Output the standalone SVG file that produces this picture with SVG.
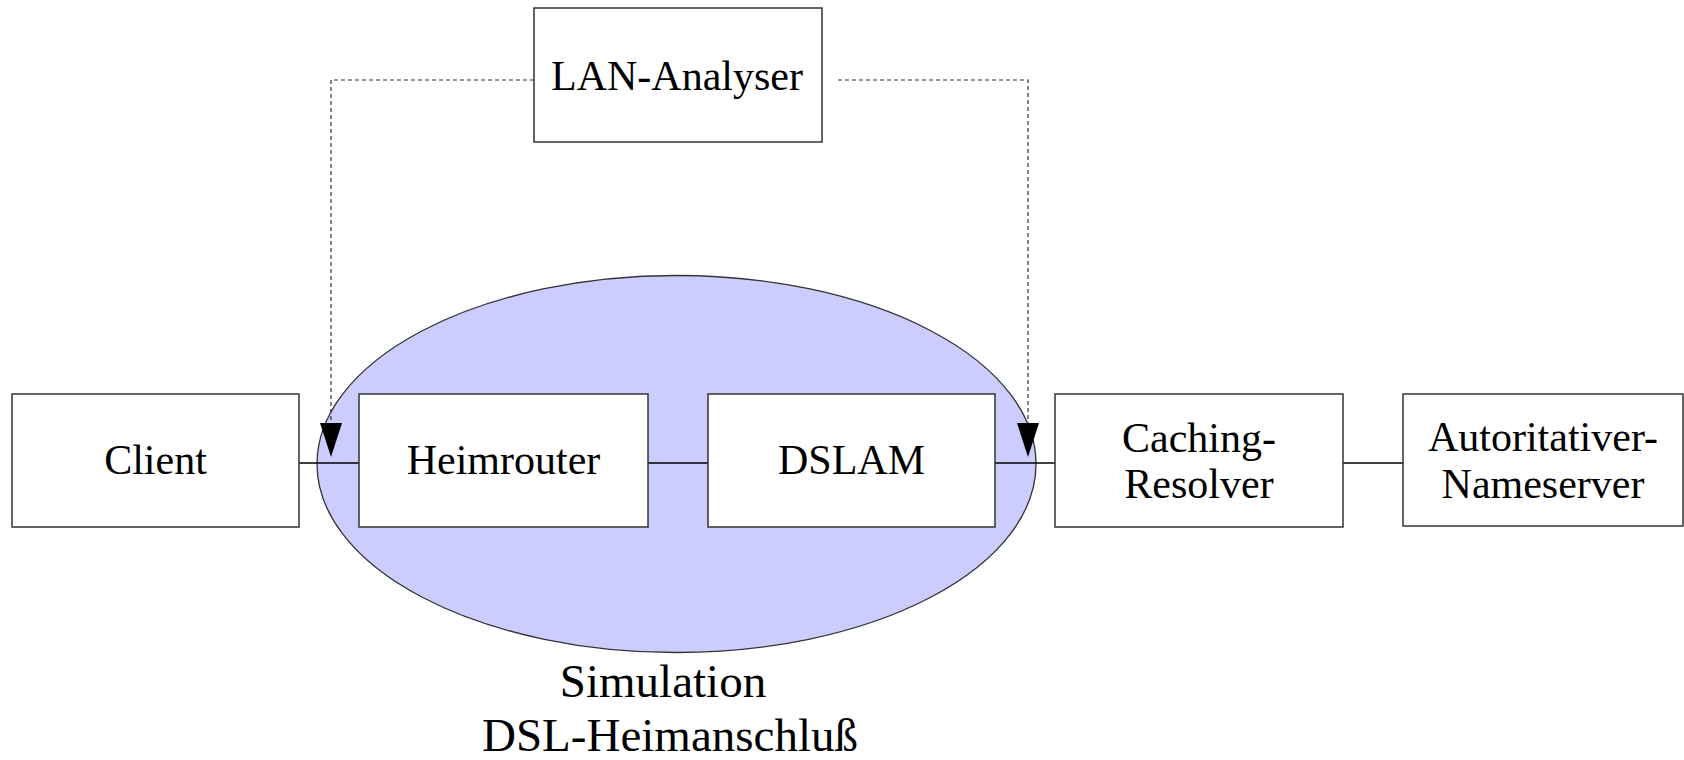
<svg xmlns="http://www.w3.org/2000/svg" width="1684" height="760" viewBox="0 0 1684 760">
  <style>
    .box { fill: #ffffff; stroke: #333333; stroke-width: 1.5; }
    .lbl { font-family: "Liberation Serif", "Times New Roman", serif; font-size: 42px; fill: #000000; text-anchor: middle; }
    .big { font-size: 47px; }
    .wire { stroke: #000000; stroke-width: 1.3; fill: none; }
    .tap { stroke: #333333; stroke-width: 1.2; stroke-dasharray: 4 3; fill: none; }
    .head { fill: #000000; }
  </style>

  <!-- simulated DSL home connection -->
  <g id="simulation">
    <ellipse cx="676.5" cy="464" rx="359.5" ry="188.5" fill="#ccccff" stroke="#333333" stroke-width="1.3"/>
    <text class="lbl big" x="663" y="697">Simulation</text>
    <text class="lbl big" x="670" y="751">DSL-Heimanschluß</text>
  </g>

  <!-- connectors -->
  <g id="connectors">
    <line class="wire" x1="299" y1="463" x2="359" y2="463"/>
    <line class="wire" x1="648" y1="463" x2="708" y2="463"/>
    <line class="wire" x1="995" y1="463" x2="1055" y2="463"/>
    <line class="wire" x1="1343" y1="463" x2="1403" y2="463"/>
    <!-- monitoring taps from the analyser -->
    <polyline class="tap" points="534,80 331,80 331,423"/>
    <polygon class="head" points="320,423 342,423 331,457"/>
    <polyline class="tap" points="838,80 1028,80 1028,423"/>
    <polygon class="head" points="1017,423 1039,423 1028,457"/>
  </g>

  <g id="lan-analyser">
    <rect class="box" x="534" y="8" width="288" height="134"/>
    <text class="lbl" x="677" y="90">LAN-Analyser</text>
  </g>

  <g id="client">
    <rect class="box" x="12" y="394" width="287" height="133"/>
    <text class="lbl" x="155.5" y="474">Client</text>
  </g>

  <g id="heimrouter">
    <rect class="box" x="359" y="394" width="289" height="133"/>
    <text class="lbl" x="503.5" y="474">Heimrouter</text>
  </g>

  <g id="dslam">
    <rect class="box" x="708" y="394" width="287" height="133"/>
    <text class="lbl" x="851.5" y="474">DSLAM</text>
  </g>

  <g id="caching-resolver">
    <rect class="box" x="1055" y="394" width="288" height="133"/>
    <text class="lbl" x="1199" y="452">Caching-</text>
    <text class="lbl" x="1199" y="498">Resolver</text>
  </g>

  <g id="nameserver">
    <rect class="box" x="1403" y="394" width="280" height="132"/>
    <text class="lbl" x="1543" y="451">Autoritativer-</text>
    <text class="lbl" x="1543" y="498">Nameserver</text>
  </g>
</svg>
